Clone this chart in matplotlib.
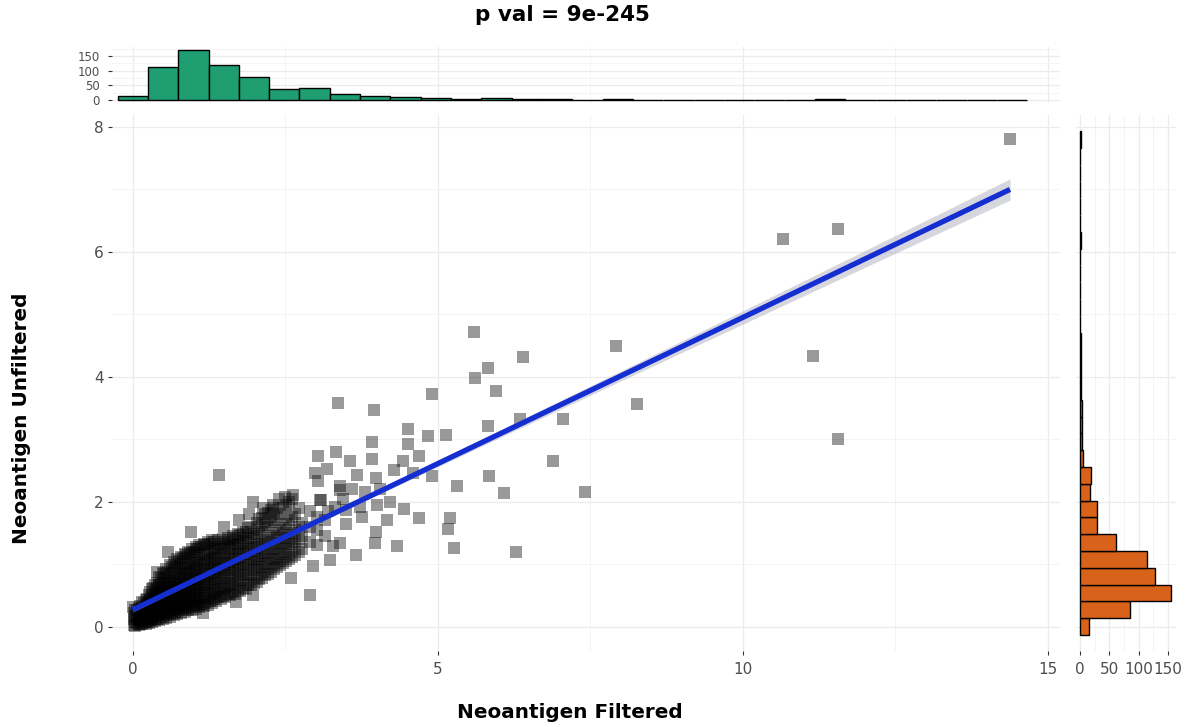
import matplotlib
matplotlib.use('Agg')
import matplotlib.pyplot as plt
import numpy as np

plt.rcParams['font.family'] = ['DejaVu Sans']

# ---------------- data ----------------
title = "p val = 9e-245"
xlabel = "Neoantigen Filtered"
ylabel = "Neoantigen Unfiltered"

# isolated points (Neoantigen Filtered, Neoantigen Unfiltered)
out_x = [14.38, 10.66, 11.56, 11.15, 11.56, 7.92, 8.27, 6.39, 5.59, 5.61, 5.82, 5.96,
         7.05, 6.34, 6.89, 7.42, 6.29, 6.08, 5.83, 5.84, 5.31, 4.90, 5.13, 4.84, 4.51,
         4.52, 4.70, 4.43, 4.91, 4.45, 4.70, 5.20, 5.16, 5.27, 4.33, 4.59, 3.36, 3.95,
         3.92, 3.92, 3.34, 3.04, 3.56, 3.18, 2.98, 3.04, 4.28, 3.67, 3.99, 3.39, 4.21,
         4.16, 3.99, 3.97, 3.66, 3.50, 3.39, 3.28, 3.23, 2.96, 2.60, 2.90, 3.09, 3.31,
         3.72, 3.50, 3.39, 1.41, 0.96, 1.50, 0.58, 0.40, 1.97, 2.14, 2.50, 2.63, 3.07,
         0.00, 3.20, 3.45, 3.60, 3.80, 4.05, 3.75, 4.00, 1.75, 1.90, 2.30, 2.40,
         1.15, 1.70, 1.97]
out_y = [7.81, 6.21, 6.37, 4.34, 3.01, 4.50, 3.56, 4.32, 4.72, 3.98, 4.14, 3.77,
         3.33, 3.33, 2.66, 2.15, 1.20, 2.14, 3.22, 2.41, 2.25, 3.73, 3.07, 3.05, 3.16,
         2.93, 2.73, 2.66, 2.41, 1.88, 1.74, 1.74, 1.56, 1.26, 1.29, 2.46, 3.58, 3.47,
         2.95, 2.68, 2.79, 2.74, 2.65, 2.52, 2.46, 2.33, 2.51, 2.43, 2.38, 2.25, 2.00,
         1.71, 1.51, 1.34, 1.15, 1.65, 1.34, 1.29, 1.07, 0.97, 0.78, 0.50, 2.03, 1.92,
         1.92, 1.87, 2.19, 2.43, 1.52, 1.60, 1.19, 0.88, 2.00, 1.90, 2.08, 2.11, 2.03,
         0.32, 1.85, 2.05, 2.20, 2.15, 2.20, 1.75, 1.95, 1.70, 1.80, 1.95, 2.05,
         0.22, 0.40, 0.51]

# dense cloud near the origin: x positions and the y values seen at each
blob_x = [0.02, 0.07, 0.12, 0.18, 0.23, 0.29, 0.34, 0.40, 0.46, 0.52, 0.58, 0.64,
          0.70, 0.76, 0.82, 0.88, 0.94, 1.00, 1.06, 1.12, 1.19, 1.26, 1.33, 1.40,
          1.48, 1.56, 1.64, 1.72, 1.80, 1.89, 1.98, 2.07, 2.16, 2.26, 2.36, 2.46,
          2.56, 2.66, 2.78, 2.90, 3.02, 3.15]
blob_y = [[0.03, 0.12, 0.22], [0.06, 0.15, 0.27], [0.05, 0.13, 0.22, 0.33],
          [0.08, 0.17, 0.26, 0.38], [0.07, 0.16, 0.25, 0.34, 0.45],
          [0.10, 0.20, 0.30, 0.41, 0.55], [0.12, 0.22, 0.33, 0.44, 0.62],
          [0.13, 0.24, 0.35, 0.47, 0.58, 0.70], [0.16, 0.27, 0.38, 0.50, 0.62, 0.78],
          [0.18, 0.29, 0.41, 0.53, 0.66, 0.84], [0.20, 0.31, 0.44, 0.56, 0.70, 0.88],
          [0.22, 0.34, 0.46, 0.60, 0.75, 0.95], [0.24, 0.36, 0.49, 0.63, 0.80, 1.00],
          [0.26, 0.38, 0.52, 0.66, 0.84, 1.05], [0.28, 0.41, 0.55, 0.70, 0.88, 1.10],
          [0.30, 0.43, 0.58, 0.73, 0.92, 1.14], [0.31, 0.45, 0.60, 0.76, 0.95, 1.18],
          [0.33, 0.47, 0.63, 0.80, 0.98, 1.20], [0.35, 0.50, 0.66, 0.83, 1.02, 1.24],
          [0.37, 0.52, 0.69, 0.86, 1.05, 1.28], [0.39, 0.55, 0.72, 0.90, 1.08, 1.30],
          [0.41, 0.58, 0.76, 0.93, 1.12, 1.33], [0.44, 0.61, 0.79, 0.97, 1.16, 1.36],
          [0.47, 0.64, 0.82, 1.00, 1.20, 1.38], [0.49, 0.67, 0.86, 1.04, 1.24, 1.40],
          [0.52, 0.70, 0.90, 1.08, 1.27, 1.42], [0.55, 0.74, 0.94, 1.12, 1.30, 1.45],
          [0.58, 0.78, 0.97, 1.16, 1.33, 1.48], [0.62, 0.82, 1.01, 1.20, 1.37, 1.52],
          [0.66, 0.86, 1.05, 1.24, 1.42, 1.58], [0.70, 0.90, 1.09, 1.28, 1.48],
          [0.76, 0.95, 1.13, 1.32, 1.55, 1.72], [0.82, 1.00, 1.18, 1.36, 1.62, 1.80],
          [0.88, 1.06, 1.24, 1.42, 1.68, 1.86], [0.96, 1.12, 1.30, 1.50, 1.75],
          [1.02, 1.20, 1.38, 1.58, 1.90], [1.08, 1.28, 1.46, 1.70, 2.00],
          [1.15, 1.36, 1.55, 1.80], [1.25, 1.45, 1.66], [1.35, 1.60, 1.85],
          [1.30, 1.55, 1.75], [1.45, 1.70]]
# second, interleaved set of columns in the same cloud
blob2_x = [0.04, 0.10, 0.15, 0.21, 0.26, 0.31, 0.37, 0.43, 0.49, 0.55, 0.61, 0.67,
           0.73, 0.79, 0.85, 0.91, 0.97, 1.03, 1.09, 1.16, 1.23, 1.30, 1.37, 1.44,
           1.52, 1.60, 1.68, 1.76, 1.85, 1.94, 2.03, 2.12, 2.21, 2.31, 2.41, 2.51,
           2.61, 2.72]
blob2_y = [[0.01, 0.08, 0.17, 0.26], [0.03, 0.10, 0.19, 0.30],
           [0.04, 0.11, 0.20, 0.29, 0.40], [0.05, 0.13, 0.22, 0.31, 0.42],
           [0.06, 0.14, 0.24, 0.36, 0.50], [0.08, 0.16, 0.26, 0.36, 0.48, 0.60],
           [0.09, 0.18, 0.29, 0.40, 0.52, 0.66], [0.11, 0.20, 0.31, 0.42, 0.54, 0.66, 0.80],
           [0.12, 0.22, 0.33, 0.45, 0.57, 0.70, 0.86], [0.14, 0.24, 0.36, 0.48, 0.60, 0.75, 0.92],
           [0.16, 0.26, 0.38, 0.50, 0.64, 0.80, 0.98], [0.18, 0.28, 0.40, 0.54, 0.68, 0.86, 1.04],
           [0.20, 0.30, 0.43, 0.57, 0.72, 0.90, 1.08], [0.22, 0.33, 0.46, 0.60, 0.76, 0.94, 1.12],
           [0.24, 0.35, 0.49, 0.64, 0.80, 0.98, 1.16], [0.26, 0.37, 0.52, 0.67, 0.84, 1.02, 1.20],
           [0.27, 0.39, 0.54, 0.70, 0.87, 1.06, 1.24], [0.29, 0.41, 0.57, 0.73, 0.90, 1.10, 1.28],
           [0.31, 0.44, 0.60, 0.76, 0.94, 1.14, 1.30], [0.33, 0.46, 0.63, 0.80, 0.98, 1.17, 1.32],
           [0.35, 0.49, 0.66, 0.84, 1.02, 1.20, 1.35], [0.38, 0.52, 0.70, 0.88, 1.06, 1.24, 1.38],
           [0.41, 0.56, 0.74, 0.92, 1.10, 1.28], [0.44, 0.60, 0.78, 0.96, 1.14, 1.32],
           [0.47, 0.63, 0.82, 1.00, 1.18, 1.35], [0.50, 0.67, 0.86, 1.04, 1.22, 1.38],
           [0.53, 0.71, 0.90, 1.08, 1.26, 1.42], [0.57, 0.75, 0.94, 1.12, 1.30, 1.46],
           [0.61, 0.80, 0.98, 1.16, 1.34, 1.52], [0.66, 0.85, 1.03, 1.21, 1.40, 1.60],
           [0.72, 0.90, 1.08, 1.26, 1.45, 1.66], [0.78, 0.96, 1.14, 1.32, 1.52, 1.74],
           [0.85, 1.02, 1.20, 1.38, 1.60, 1.82], [0.92, 1.08, 1.26, 1.45, 1.70, 1.90],
           [0.99, 1.16, 1.34, 1.54, 1.80], [1.05, 1.24, 1.42, 1.64, 1.95],
           [1.12, 1.32, 1.50, 1.75, 2.05], [1.20, 1.40, 1.60, 1.90]]

# fitted line and its confidence band
fit_x = [0.0, 14.38]
fit_y = [0.27, 7.00]
band_x = [0.0, 1.3, 4.0, 8.0, 11.0, 14.38]
band_half = [0.04, 0.03, 0.04, 0.08, 0.12, 0.17]

# marginal histogram of Neoantigen Filtered (bin width 0.497, first bin centred at 0)
xhist_width = 0.497
xhist_counts = [15, 111, 172, 119, 80, 38, 40, 22, 14, 11, 6, 4, 6, 3, 2, 1, 3, 1,
                0, 0, 0, 1, 1, 2, 0, 0, 0, 0, 0, 1]
# marginal histogram of Neoantigen Unfiltered (bin width 0.269, first bin centred at 0)
yhist_width = 0.269
yhist_counts = [15, 85, 155, 127, 114, 61, 29, 29, 17, 18, 5, 4, 3, 3, 2, 1, 2, 1,
                0, 0, 0, 0, 0, 2, 0, 0, 0, 0, 0, 1]

# ---------------- figure ----------------
W, H = 1193, 727
fig = plt.figure(figsize=(W / 100, H / 100), dpi=100)


def px_axes(l, t, r, b):
    return fig.add_axes([l / W, 1 - b / H, (r - l) / W, (b - t) / H])


def style(ax):
    ax.set_facecolor('white')
    for s in ax.spines.values():
        s.set_visible(False)
    ax.set_axisbelow(True)
    ax.grid(which='major', color='#ebebeb', lw=0.9)
    ax.grid(which='minor', color='#f3f3f3', lw=0.6)
    ax.tick_params(which='major', length=3, width=0.8, color='#333333',
                   labelsize=11, labelcolor='#4d4d4d', pad=3)
    ax.tick_params(which='minor', length=0)


XLIM = (-0.34, 15.2)
YLIM = (-0.39, 8.2)
XMAJ, XMIN = [0, 5, 10, 15], [2.5, 7.5, 12.5]
YMAJ, YMIN = [0, 2, 4, 6, 8], [1, 3, 5, 7]

# main scatter panel
ax = px_axes(112, 114.5, 1060, 651)
style(ax)
ax.set_xlim(*XLIM)
ax.set_ylim(*YLIM)
ax.set_xticks(XMAJ)
ax.set_xticks(XMIN, minor=True)
ax.set_yticks(YMAJ)
ax.set_yticks(YMIN, minor=True)
ax.tick_params(axis='x', pad=5)

bx = [x for x, ys in zip(blob_x, blob_y) for _ in ys]
by = [y for ys in blob_y for y in ys]
bx2 = [x for x, ys in zip(blob2_x, blob2_y) for _ in ys]
by2 = [y for ys in blob2_y for y in ys]
ax.scatter(bx + bx2 + out_x, by + by2 + out_y, s=82, marker='s', c='black',
           alpha=0.4, linewidths=0, zorder=2)

lx = np.linspace(fit_x[0], fit_x[1], 100)
ly = np.interp(lx, fit_x, fit_y)
hw = np.interp(lx, band_x, band_half)
ax.fill_between(lx, ly - hw, ly + hw, color='#a4a4b8', alpha=0.45, lw=0, zorder=3)
ax.plot(lx, ly, color='#152ed2', lw=3.8, solid_capstyle='butt', zorder=4)

# top marginal histogram
axt = px_axes(112, 47, 1060, 102.5)
style(axt)
xc = np.arange(len(xhist_counts)) * xhist_width
axt.bar(xc, xhist_counts, width=xhist_width, color='#1f9e72', edgecolor='black',
        linewidth=1.0, zorder=2)
axt.set_xlim(*XLIM)
axt.set_ylim(-8.6, 180.6)
axt.set_xticks(XMAJ)
axt.set_xticks(XMIN, minor=True)
axt.set_yticks([0, 50, 100, 150])
axt.set_yticks([25, 75, 125, 175], minor=True)
axt.tick_params(axis='x', which='both', length=0, labelbottom=False)
axt.tick_params(axis='y', labelsize=8.5, pad=6)

# right marginal histogram
axr = px_axes(1075.5, 114.5, 1175.5, 651)
style(axr)
yc = np.arange(len(yhist_counts)) * yhist_width
axr.barh(yc, yhist_counts, height=yhist_width, color='#d9621a', edgecolor='black',
         linewidth=1.0, zorder=2)
axr.set_ylim(*YLIM)
axr.set_xlim(-7.75, 162.75)
axr.set_yticks(YMAJ)
axr.set_yticks(YMIN, minor=True)
axr.set_xticks([0, 50, 100, 150])
axr.set_xticks([25, 75, 125], minor=True)
axr.tick_params(axis='y', which='both', length=0, labelleft=False)
axr.tick_params(axis='x', labelsize=11, pad=5)

# titles
fig.text(562 / W, 1 - 15 / H, title, ha='center', va='center', fontsize=15.5,
         fontweight='bold', color='black')
fig.text(570 / W, 1 - 712 / H, xlabel, ha='center', va='center', fontsize=14.4,
         fontweight='bold', color='black')
fig.text(22 / W, 1 - 418 / H, ylabel, ha='center', va='center', fontsize=14.4,
         fontweight='bold', color='black', rotation=90)

fig.savefig('out.png', dpi=100, facecolor='white')
